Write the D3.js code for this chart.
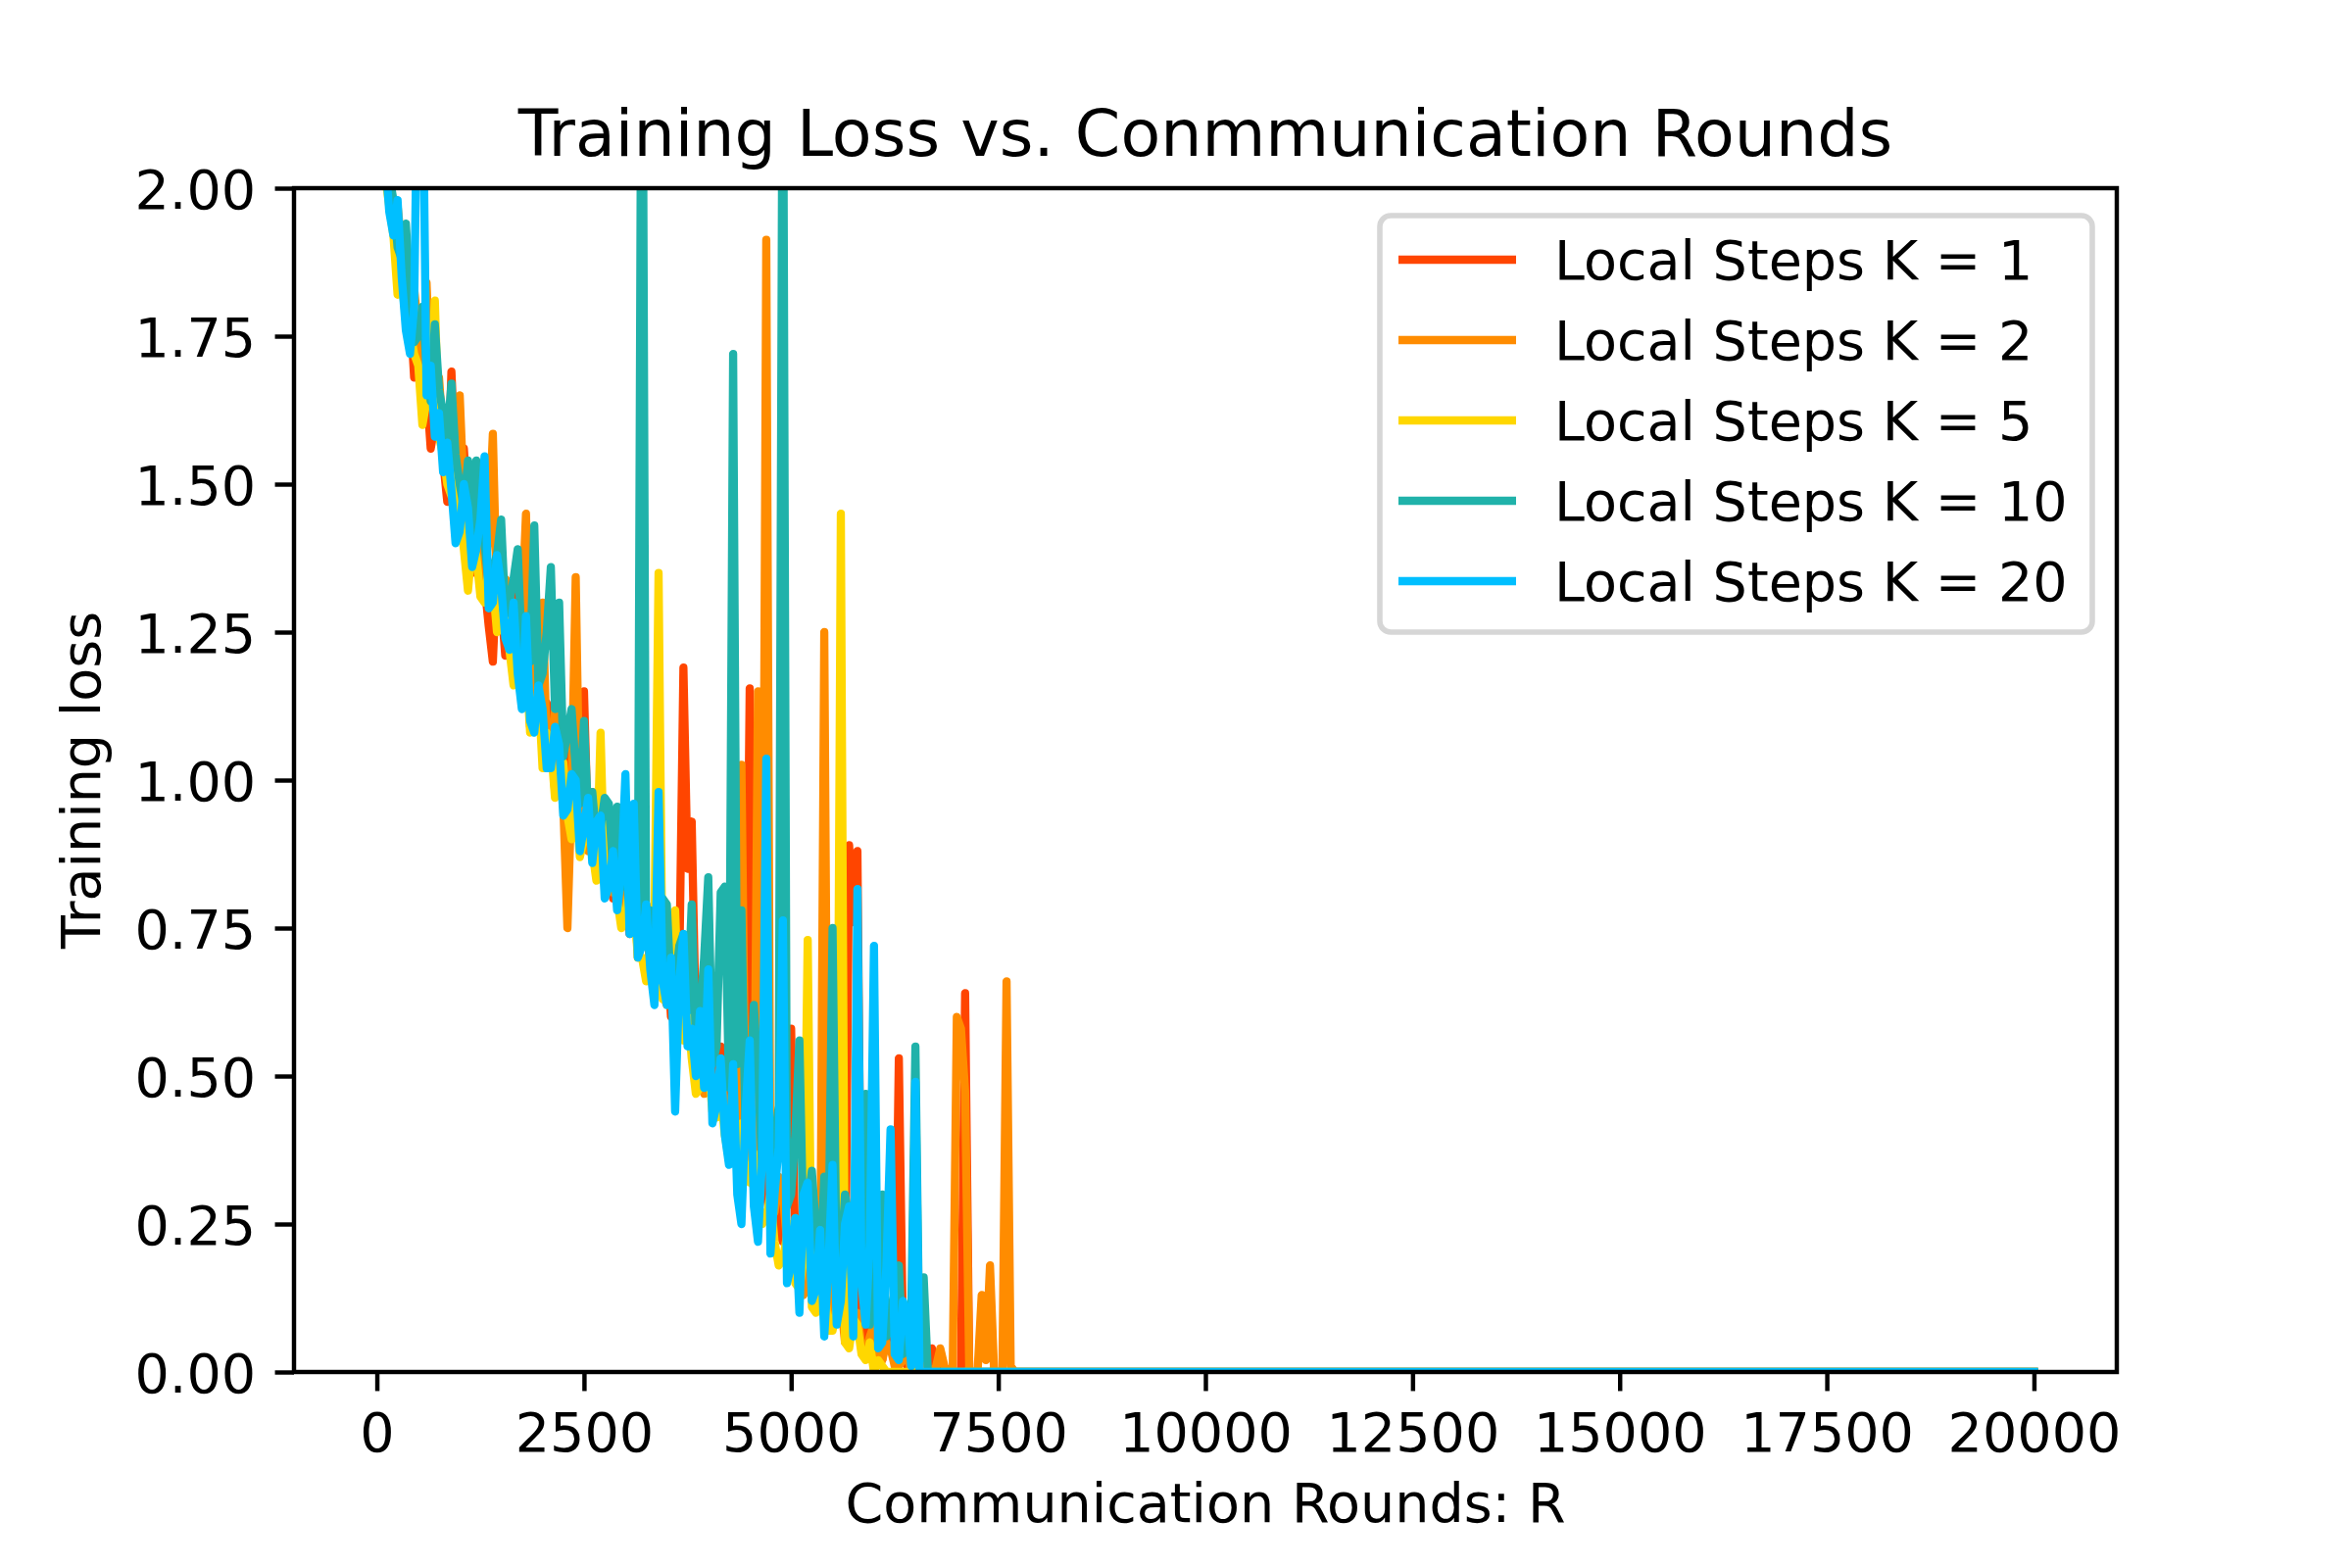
<!DOCTYPE html>
<html>
<head>
<meta charset="utf-8">
<script src="https://cdn.jsdelivr.net/npm/d3@7"></script>
<style>
  body { margin: 0; background: #fff; }
  text { font-family: "DejaVu Sans", sans-serif; }
</style>
</head>
<body>
<div id="chart"></div>
<script>
// evaluation rounds (loss logged every 50 rounds)
const rounds = [
  100, 150, 200, 250, 300, 350, 400, 450, 500, 550, 600, 650, 700, 750, 800, 850, 900, 950, 1000, 1050,
  1100, 1150, 1200, 1250, 1300, 1350, 1400, 1450, 1500, 1550, 1600, 1650, 1700, 1750, 1800, 1850, 1900, 1950, 2000, 2050,
  2100, 2150, 2200, 2250, 2300, 2350, 2400, 2450, 2500, 2550, 2600, 2650, 2700, 2750, 2800, 2850, 2900, 2950, 3000, 3050,
  3100, 3150, 3200, 3250, 3300, 3350, 3400, 3450, 3500, 3550, 3600, 3650, 3700, 3750, 3800, 3850, 3900, 3950, 4000, 4050,
  4100, 4150, 4200, 4250, 4300, 4350, 4400, 4450, 4500, 4550, 4600, 4650, 4700, 4750, 4800, 4850, 4900, 4950, 5000, 5050,
  5100, 5150, 5200, 5250, 5300, 5350, 5400, 5450, 5500, 5550, 5600, 5650, 5700, 5750, 5800, 5850, 5900, 5950, 6000, 6050,
  6100, 6150, 6200, 6250, 6300, 6350, 6400, 6450, 6500, 6550, 6600, 6650, 6700, 6750, 6800, 6850, 6900, 6950, 7000, 7050,
  7100, 7150, 7200, 7250, 7300, 7350, 7400, 7450, 7500, 7550, 7600, 7650, 7700, 7750, 7800
];
const lastRound = 20000;

const lossK1 = [
  2.05, 2.00, 1.95, 1.84, 1.86, 1.88, 1.80, 1.68, 1.72, 1.75,
  1.66, 1.56, 1.60, 1.63, 1.54, 1.47, 1.69, 1.52, 1.47, 1.56,
  1.45, 1.35, 1.38, 1.44, 1.33, 1.26, 1.20, 1.36, 1.30, 1.21,
  1.24, 1.32, 1.19, 1.14, 1.25, 1.09, 1.12, 1.18, 1.06, 1.13,
  1.10, 0.98, 1.02, 1.08, 0.98, 0.93, 1.05, 0.96, 1.15, 0.90,
  0.92, 0.97, 0.88, 0.84, 0.93, 0.80, 0.83, 0.88, 0.80, 0.74,
  0.86, 0.72, 0.74, 0.79, 0.70, 0.65, 0.68, 0.75, 0.72, 0.60,
  0.62, 0.68, 1.19, 0.85, 0.93, 0.58, 0.55, 0.62, 0.64, 0.48,
  0.46, 0.55, 0.50, 0.42, 0.41, 0.47, 0.38, 0.44, 1.155, 0.40,
  0.33, 0.38, 0.30, 0.26, 0.36, 0.24, 0.22, 0.31, 0.58, 0.20,
  0.19, 0.27, 0.25, 0.14, 0.12, 0.21, 0.18, 0.10, 0.08, 0.16,
  0.30, 0.07, 0.89, 0.76, 0.88, 0.10, 0.05, 0.12, 0.15, 0.04,
  0.02, 0.09, 0.08, 0.03, 0.53, 0.05, 0.01, 0.02, 0.00, 0.01,
  0.00, 0.00, 0.04, 0.01, 0.00, 0.00, 0.00, 0.00, 0.00, 0.00,
  0.64, 0.00, 0.00
];
const lossK2 = [
  2.08, 1.98, 1.93, 1.97, 1.90, 1.80, 1.78, 1.83, 1.76, 1.70,
  1.84, 1.66, 1.62, 1.68, 1.58, 1.61, 1.53, 1.58, 1.65, 1.48,
  1.44, 1.50, 1.41, 1.36, 1.34, 1.42, 1.585, 1.30, 1.28, 1.34,
  1.33, 1.24, 1.21, 1.28, 1.45, 1.14, 1.16, 1.22, 1.30, 1.06,
  1.04, 1.12, 1.08, 0.96, 0.75, 0.98, 1.343, 0.92, 0.95, 0.88,
  0.98, 0.86, 0.89, 0.93, 0.86, 0.81, 0.90, 0.77, 0.78, 0.83,
  0.84, 0.70, 0.73, 0.77, 0.68, 0.72, 0.76, 0.64, 0.62, 0.69,
  0.60, 0.57, 0.65, 0.56, 0.55, 0.61, 0.52, 0.47, 0.58, 0.45,
  0.47, 0.52, 0.44, 0.40, 0.50, 0.38, 1.026, 0.42, 0.36, 0.31,
  1.15, 0.34, 1.913, 0.29, 0.27, 0.33, 0.30, 0.22, 0.20, 0.26,
  0.22, 0.13, 0.15, 0.20, 0.17, 0.11, 1.25, 0.14, 0.09, 0.13,
  0.12, 0.05, 0.06, 0.09, 0.10, 0.04, 0.03, 0.06, 0.08, 0.02,
  0.02, 0.05, 0.04, 0.01, 0.01, 0.02, 0.03, 0.00, 0.00, 0.01,
  0.02, 0.00, 0.00, 0.01, 0.04, 0.01, 0.00, 0.00, 0.60, 0.58,
  0.474, 0.00, 0.00, 0.00, 0.13, 0.02, 0.18, 0.00, 0.00, 0.00,
  0.66, 0.01, 0.00, 0.00, 0.00
];
const lossK5 = [
  2.02, 1.97, 1.92, 1.82, 1.84, 1.78, 1.76, 1.72, 1.70, 1.60,
  1.64, 1.67, 1.81, 1.58, 1.55, 1.50, 1.48, 1.52, 1.46, 1.39,
  1.32, 1.40, 1.38, 1.31, 1.30, 1.36, 1.33, 1.25, 1.26, 1.30,
  1.22, 1.16, 1.17, 1.24, 1.20, 1.08, 1.10, 1.15, 1.02, 1.08,
  1.06, 0.97, 0.98, 1.03, 0.94, 0.90, 0.97, 0.87, 0.90, 0.94,
  0.88, 0.83, 1.08, 0.82, 0.83, 0.87, 0.80, 0.75, 0.77, 0.82,
  0.80, 0.70, 0.70, 0.66, 0.67, 0.74, 1.35, 0.63, 0.63, 0.68,
  0.78, 0.58, 0.56, 0.62, 0.53, 0.47, 0.48, 0.55, 0.52, 0.44,
  0.43, 0.47, 0.40, 0.36, 0.37, 0.41, 0.42, 0.33, 0.32, 0.37,
  0.29, 0.25, 0.26, 0.30, 0.22, 0.18, 0.19, 0.23, 0.25, 0.15,
  0.14, 0.19, 0.73, 0.11, 0.10, 0.14, 0.15, 0.07, 0.07, 0.11,
  1.45, 0.05, 0.04, 0.09, 0.08, 0.03, 0.02, 0.05, 0.00, 0.02,
  0.01, 0.00, 0.00
];
const lossK10 = [
  2.10, 2.02, 1.98, 1.90, 1.88, 1.94, 1.83, 1.74, 1.75, 1.80,
  1.70, 1.64, 1.77, 1.66, 1.62, 1.58, 1.67, 1.55, 1.50, 1.46,
  1.54, 1.42, 1.54, 1.45, 1.40, 1.33, 1.36, 1.38, 1.44, 1.28,
  1.30, 1.34, 1.39, 1.22, 1.24, 1.20, 1.43, 1.16, 1.18, 1.25,
  1.36, 1.12, 1.30, 1.04, 1.08, 1.12, 1.02, 0.96, 1.10, 0.94,
  0.98, 0.90, 0.92, 0.97, 0.96, 0.85, 0.955, 0.82, 0.86, 0.78,
  0.80, 0.75, 2.60, 0.73, 0.78, 0.70, 0.72, 0.80, 0.79, 0.64,
  0.66, 0.72, 0.74, 0.61, 0.79, 0.56, 0.60, 0.70, 0.836, 0.52,
  0.55, 0.81, 0.82, 0.48, 1.72, 0.52, 0.78, 0.40, 0.45, 0.62,
  0.50, 0.35, 0.73, 0.32, 0.38, 0.45, 2.40, 0.28, 0.30, 0.40,
  0.56, 0.22, 0.28, 0.34, 0.24, 0.16, 0.33, 0.20, 0.75, 0.14,
  0.18, 0.30, 0.26, 0.10, 0.535, 0.20, 0.47, 0.08, 0.12, 0.22,
  0.30, 0.06, 0.08, 0.14, 0.18, 0.03, 0.05, 0.10, 0.55, 0.02,
  0.16, 0.00, 0.00, 0.00, 0.00
];
const lossK20 = [
  2.05, 1.96, 1.92, 1.98, 1.85, 1.76, 1.72, 1.80, 2.30, 2.25,
  1.65, 1.70, 1.58, 1.62, 1.52, 1.57, 1.49, 1.40, 1.42, 1.50,
  1.46, 1.36, 1.39, 1.44, 1.547, 1.29, 1.30, 1.38, 1.33, 1.24,
  1.22, 1.30, 1.18, 1.12, 1.277, 1.10, 1.08, 1.16, 1.12, 1.02,
  1.02, 1.09, 1.06, 0.94, 0.95, 1.01, 1.00, 0.88, 0.92, 0.97,
  0.86, 0.93, 0.94, 0.80, 0.82, 0.88, 0.78, 0.84, 1.01, 0.74,
  0.96, 0.70, 0.72, 0.79, 0.68, 0.62, 0.98, 0.66, 0.62, 0.70,
  0.44, 0.66, 0.74, 0.55, 0.58, 0.50, 0.61, 0.48, 0.68, 0.42,
  0.45, 0.53, 0.40, 0.35, 0.52, 0.30, 0.25, 0.44, 0.56, 0.28,
  0.22, 0.36, 1.036, 0.20, 0.30, 0.38, 0.763, 0.15, 0.18, 0.26,
  0.10, 0.30, 0.32, 0.12, 0.14, 0.24, 0.06, 0.18, 0.35, 0.08,
  0.12, 0.25, 0.28, 0.06, 0.816, 0.15, 0.08, 0.22, 0.72, 0.04,
  0.05, 0.18, 0.41, 0.03, 0.02, 0.12, 0.10, 0.01, 0.49, 0.00,
  0.00
];

const labels = ["Local Steps K = 1", "Local Steps K = 2", "Local Steps K = 5",
                "Local Steps K = 10", "Local Steps K = 20"];
const colors = ["#ff4500", "#ff8c00", "#ffd700", "#20b2aa", "#00bfff"];
const xTicks = [0, 2500, 5000, 7500, 10000, 12500, 15000, 17500, 20000];
const yTicks = [0, 0.25, 0.5, 0.75, 1.0, 1.25, 1.5, 1.75, 2.0];

const allLoss = [lossK1, lossK2, lossK5, lossK10, lossK20];

let width = 2400,
    height = 1600
let margin = {left: 300, right: 240, top: 192, bottom: 200}
let innerW = width - margin.left - margin.right,
    innerH = height - margin.top - margin.bottom

const pt = 400 / 72;      // figure drawn at 400 dpi
const fontSize = 10 * pt;

let svg = d3.select("#chart")
  .append("svg")
    .attr("width", width)
    .attr("height", height);

let x = d3.scaleLinear().domain([-1000, 21000]).range([margin.left, margin.left + innerW]);
let y = d3.scaleLinear().domain([0, 2]).range([margin.top + innerH, margin.top]);

svg.append("clipPath").attr("id", "plot-clip")
  .append("rect")
    .attr("x", margin.left).attr("y", margin.top)
    .attr("width", innerW).attr("height", innerH);

const line = d3.line()
  .x(d => x(d[0]))
  .y(d => y(d[1]));

const series = allLoss.map((vals, k) => ({
  label: labels[k],
  color: colors[k],
  points: vals.map((v, i) => [rounds[i], v]).concat([[lastRound, 0]])
}));

svg.append("g")
    .attr("clip-path", "url(#plot-clip)")
  .selectAll("path")
  .data(series)
  .enter()
  .append("path")
    .attr("d", d => line(d.points))
    .attr("fill", "none")
    .attr("stroke", d => d.color)
    .attr("stroke-width", 1.5 * pt)
    .attr("stroke-linejoin", "round")
    .attr("stroke-linecap", "square");

// axes
const tickLen = 3.5 * pt, tickPad = 3.5 * pt, axisW = 0.8 * pt;

const xAxis = svg.append("g")
  .attr("transform", `translate(0,${margin.top + innerH})`)
  .call(d3.axisBottom(x).tickValues(xTicks).tickFormat(d3.format("d"))
    .tickSize(tickLen).tickPadding(tickPad));

const yAxis = svg.append("g")
  .attr("transform", `translate(${margin.left},0)`)
  .call(d3.axisLeft(y).tickValues(yTicks).tickFormat(d3.format(".2f"))
    .tickSize(tickLen).tickPadding(tickPad));

[xAxis, yAxis].forEach(a => {
  a.select(".domain").remove();
  a.selectAll(".tick line").attr("stroke", "#000").attr("stroke-width", axisW);
  a.selectAll(".tick text")
    .attr("fill", "#000")
    .style("font-family", "'DejaVu Sans', sans-serif")
    .style("font-size", `${fontSize}px`);
});
xAxis.selectAll(".tick text").attr("dy", "0.76em");
yAxis.selectAll(".tick text").attr("dy", "0.36em");

// frame on top of the lines
svg.append("rect")
  .attr("x", margin.left).attr("y", margin.top)
  .attr("width", innerW).attr("height", innerH)
  .attr("fill", "none")
  .attr("stroke", "#000")
  .attr("stroke-width", axisW);

// titles
svg.append("text")
  .attr("x", margin.left + innerW / 2)
  .attr("y", margin.top - 6 * pt)
  .attr("text-anchor", "middle")
  .style("font-size", `${12 * pt}px`)
  .text("Training Loss vs. Conmmunication Rounds");

svg.append("text")
  .attr("x", margin.left + innerW / 2)
  .attr("y", 1553)
  .attr("text-anchor", "middle")
  .style("font-size", `${fontSize}px`)
  .text("Communication Rounds: R");

svg.append("text")
  .attr("transform", `translate(102,${margin.top + innerH / 2}) rotate(-90)`)
  .attr("text-anchor", "middle")
  .style("font-size", `${fontSize}px`)
  .text("Training loss");

// legend
const legendX = 1408, legendY = 220, legendW = 727, legendH = 425;
const rowGap = 82;
const legend = svg.append("g");

legend.append("rect")
  .attr("x", legendX).attr("y", legendY)
  .attr("width", legendW).attr("height", legendH)
  .attr("rx", 0.2 * fontSize)
  .attr("fill", "#fff").attr("fill-opacity", 0.8)
  .attr("stroke", "#cccccc").attr("stroke-opacity", 0.8)
  .attr("stroke-width", 1.0 * pt);

legend.selectAll("line")
  .data(series)
  .enter()
  .append("line")
    .attr("x1", 1427).attr("x2", 1547)
    .attr("y1", (d, i) => legendY + 45 + i * rowGap)
    .attr("y2", (d, i) => legendY + 45 + i * rowGap)
    .attr("stroke", d => d.color)
    .attr("stroke-width", 1.5 * pt)
    .attr("stroke-linecap", "butt");

legend.selectAll("text")
  .data(series)
  .enter()
  .append("text")
    .attr("x", 1586)
    .attr("y", (d, i) => legendY + 45 + i * rowGap)
    .attr("dy", "0.36em")
    .style("font-size", `${fontSize}px`)
    .text(d => d.label);
</script>
</body>
</html>
